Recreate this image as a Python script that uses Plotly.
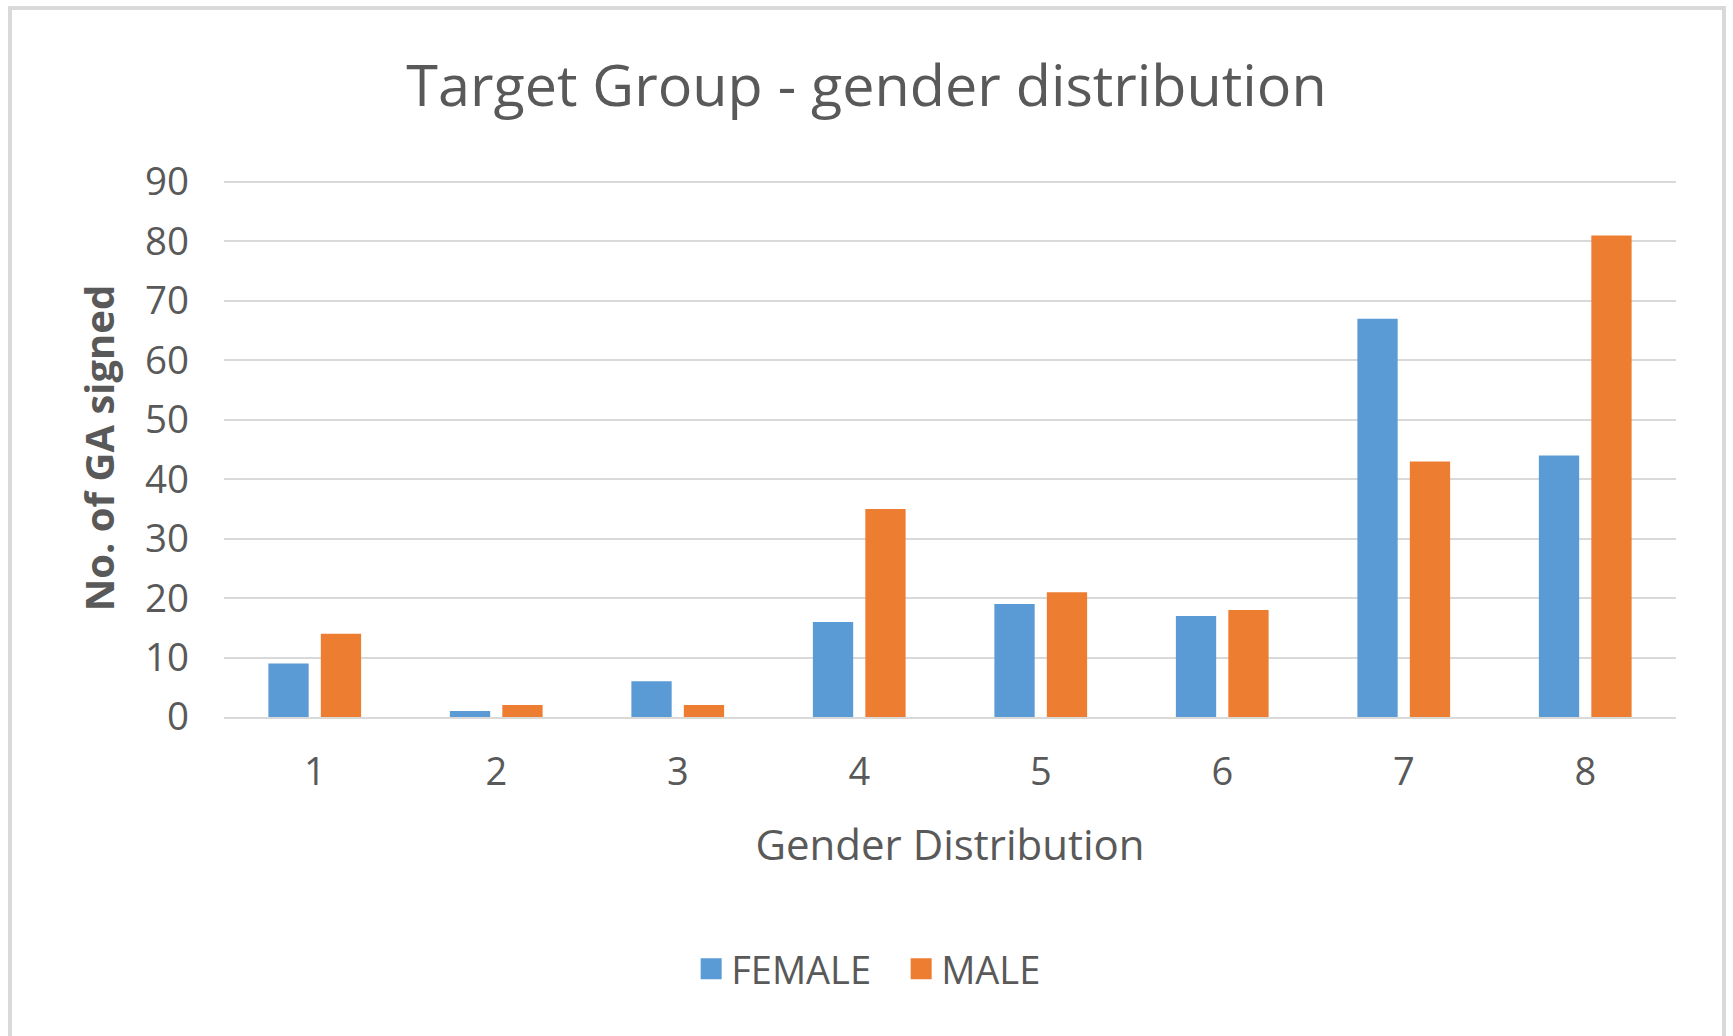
import plotly.graph_objects as go

categories = ["1", "2", "3", "4", "5", "6", "7", "8"]
female = [9, 1, 6, 16, 19, 17, 67, 44]
male = [14, 2, 2, 35, 21, 18, 43, 81]
y_ticks = [0, 10, 20, 30, 40, 50, 60, 70, 80, 90]

TEXT = "#595959"
FONT = "Open Sans"
BLUE = "#5B9BD5"
ORANGE = "#ED7D31"

W, H = 1733, 1036
Y_TOP = 90.5
L, R, B = 224, 57, 319
T = int(round(717 - 535 * Y_TOP / 90))
pw, ph = W - L - R, H - T - B

fig = go.Figure()
fig.add_trace(go.Bar(name="FEMALE", x=categories, y=female, showlegend=False,
                     marker=dict(color=BLUE, line=dict(width=0))))
fig.add_trace(go.Bar(name="MALE", x=categories, y=male, showlegend=False,
                     marker=dict(color=ORANGE, line=dict(width=0))))
# legend entries with larger square swatches
for nm, col in (("FEMALE", BLUE), ("MALE", ORANGE)):
    fig.add_trace(go.Scatter(name=nm, x=[None], y=[None], mode="markers",
                             marker=dict(symbol="square", size=16, color=col,
                                         line=dict(color=col, width=6))))

def px_x(p):
    return (p - L) / pw

def px_y(p):
    return (H - B - p) / ph

fig.update_layout(
    width=W, height=H,
    margin=dict(l=L, r=R, t=T, b=B),
    paper_bgcolor="white", plot_bgcolor="white",
    barmode="group", bargap=0.422, bargroupgap=0.232,
    font=dict(family=FONT, color=TEXT),
    title=dict(text="Target Group - gender distribution",
               font=dict(size=57.5, color=TEXT, family=FONT),
               x=0.5, xanchor="center", xref="container",
               y=1 - 86 / H, yanchor="middle", yref="container"),
    xaxis=dict(title=dict(text="Gender Distribution", font=dict(size=42, color=TEXT), standoff=36),
               tickfont=dict(size=38, color=TEXT), showgrid=False,
               showline=True, linecolor="#d9d9d9", linewidth=2,
               ticks="", ticklabelstandoff=20),
    yaxis=dict(title=dict(text="<b>No. of GA signed</b>", font=dict(size=40, color=TEXT), standoff=17),
               tickfont=dict(size=38.5, color=TEXT), range=[0, Y_TOP], tickvals=y_ticks,
               showgrid=True, gridcolor="#d9d9d9", gridwidth=2, zeroline=False,
               ticks="", ticklabelstandoff=34),
    legend=dict(orientation="h", x=0.52, xanchor="center", xref="container",
                y=1 - 969 / H, yanchor="middle", yref="container",
                font=dict(size=38, color=TEXT), itemwidth=30, traceorder="normal",
                itemsizing="trace", entrywidth=165, entrywidthmode="pixels"),
    shapes=[dict(type="rect", xref="paper", yref="paper",
                 x0=px_x(10), x1=px_x(1724), y0=px_y(1045), y1=px_y(8),
                 line=dict(color="#d9d9d9", width=4), fillcolor="rgba(0,0,0,0)", layer="below")],
)

fig.write_html("out.html", config={"displayModeBar": False},
               post_script="document.body.style.margin='0';")
